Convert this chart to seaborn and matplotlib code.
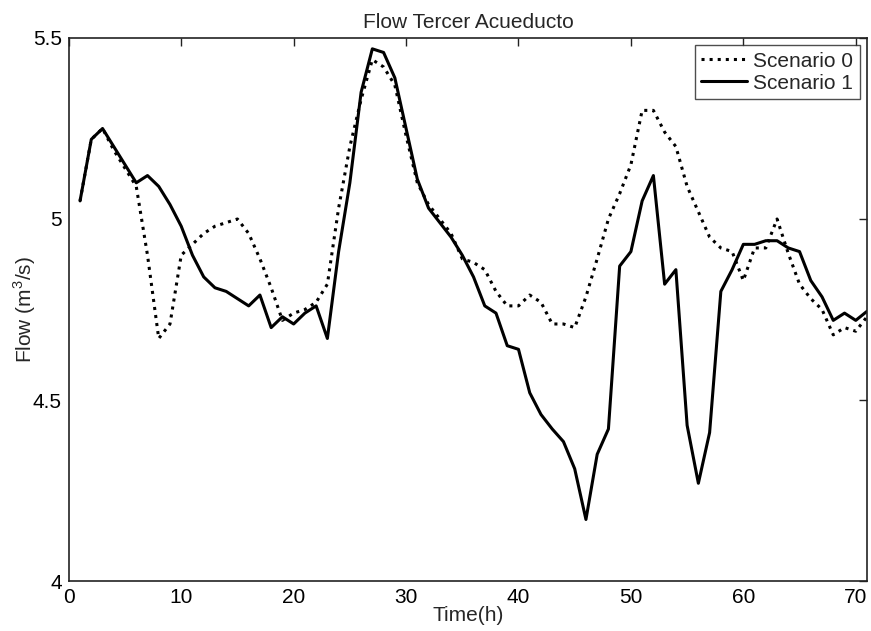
import numpy as np
import pandas as pd
import seaborn as sns
import matplotlib.pyplot as plt

hours = list(range(1, 72))

scenario_0 = [5.05, 5.22, 5.25, 5.19, 5.14, 5.09, 4.90, 4.67, 4.71, 4.90,
              4.93, 4.96, 4.98, 4.99, 5.00, 4.96, 4.89, 4.81, 4.72, 4.74,
              4.75, 4.77, 4.82, 5.03, 5.20, 5.33, 5.44, 5.42, 5.37, 5.23,
              5.10, 5.04, 5.00, 4.96, 4.89, 4.88, 4.86, 4.80, 4.76, 4.76,
              4.79, 4.77, 4.71, 4.71, 4.70, 4.785, 4.89, 5.00, 5.07, 5.15,
              5.30, 5.30, 5.24, 5.20, 5.09, 5.02, 4.95, 4.92, 4.91, 4.83,
              4.92, 4.92, 5.00, 4.905, 4.82, 4.78, 4.75, 4.68, 4.70, 4.69,
              4.73]

scenario_1 = [5.05, 5.22, 5.25, 5.20, 5.15, 5.10, 5.12, 5.09, 5.04, 4.98,
              4.90, 4.84, 4.81, 4.80, 4.78, 4.76, 4.79, 4.70, 4.73, 4.71,
              4.74, 4.76, 4.67, 4.91, 5.10, 5.35, 5.47, 5.46, 5.39, 5.25,
              5.11, 5.03, 4.99, 4.95, 4.90, 4.84, 4.76, 4.74, 4.65, 4.64,
              4.52, 4.46, 4.42, 4.385, 4.31, 4.17, 4.35, 4.42, 4.87, 4.91,
              5.05, 5.12, 4.82, 4.86, 4.43, 4.27, 4.41, 4.80, 4.86, 4.93,
              4.93, 4.94, 4.94, 4.92, 4.91, 4.83, 4.785, 4.72, 4.74, 4.72,
              4.745]

sns.set_style('white')
plt.rcParams['font.family'] = ['Liberation Sans', 'DejaVu Sans']
plt.rcParams['font.size'] = 15
plt.rcParams['mathtext.fontset'] = 'custom'
plt.rcParams['mathtext.rm'] = 'Liberation Sans'

fig, ax = plt.subplots(figsize=(8.71, 6.31), dpi=100)
fig.subplots_adjust(left=0.079, right=0.9954, top=0.9398, bottom=0.0792)

sns.lineplot(x=hours, y=scenario_0, ax=ax, color='k', linestyle=':', linewidth=2.2, label='Scenario 0')
sns.lineplot(x=hours, y=scenario_1, ax=ax, color='k', linestyle='-', linewidth=2.2, label='Scenario 1')

ax.set_xlim(0, 71)
ax.set_ylim(4, 5.5)
ax.set_xticks(range(0, 71, 10))
ax.set_yticks([4, 4.5, 5, 5.5])
ax.set_yticklabels(['4', '4.5', '5', '5.5'])

for side in ax.spines.values():
    side.set_color('#222222')
    side.set_linewidth(1.2)
ax.tick_params(direction='in', length=6, width=1, top=True, right=True,
               labelsize=15, pad=5, colors='#222222', labelcolor='k')

ax.set_title('Flow Tercer Acueducto', fontsize=15, pad=7)
ax.set_xlabel('Time(h)', fontsize=15, labelpad=-1)
ax.set_ylabel('Flow (m$^3$/s)', fontsize=15, labelpad=-4)

leg = ax.legend(loc='upper right', frameon=True, fancybox=False, fontsize=15,
                handlelength=2.2, handletextpad=0.3, borderaxespad=0.35,
                borderpad=0.3, labelspacing=0.15)
leg.get_frame().set_edgecolor('#222222')
leg.get_frame().set_linewidth(1.0)

plt.savefig('out.png', dpi=100)
